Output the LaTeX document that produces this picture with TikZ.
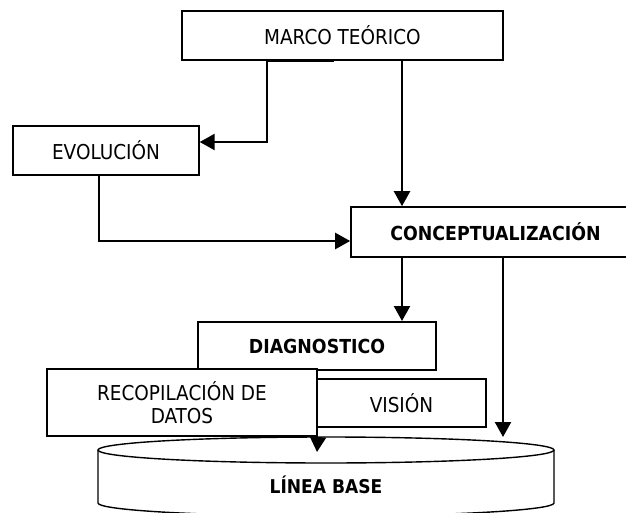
\documentclass[tikz,border=0pt]{standalone}
\usepackage{fontspec}
\setmainfont{DejaVu Sans Condensed}
\usetikzlibrary{arrows.meta,calc}
\begin{document}
\begin{tikzpicture}[x=1pt,y=-1pt,
  box/.style={draw,fill=white,inner sep=0pt,align=center,font=\fontsize{20.5}{23}\selectfont},
  bbox/.style={box,font=\fontsize{19.3}{23}\selectfont\bfseries},
  arr/.style={line width=2.3pt,-{Triangle[length=15pt,width=16pt]}},
  cyl/.style={line width=1.4pt,fill=white}
]
\useasboundingbox (0,0) rectangle (626,513);

% cylinder (LINEA BASE)
\draw[cyl] (98,450) -- (98,503) arc[start angle=180,end angle=0,x radius=228,y radius=13] -- (554,450);
\draw[cyl] (326,450) ellipse[x radius=228,y radius=13];
\node[font=\fontsize{19}{23}\selectfont\bfseries] (base) at (326,485) {LÍNEA BASE};

% boxes
\node[bbox,line width=2pt,minimum width=238pt,minimum height=48pt] (diag) at (317,346) {DIAGNOSTICO};
\node[box,line width=1.6pt,minimum width=169pt,minimum height=48pt] (vision) at (401.5,403) {VISIÓN};
\node[box,line width=2pt,minimum width=270pt,minimum height=67pt] (recop) at (182,402.5) {RECOPILACIÓN DE\\DATOS};
\node[box,line width=1.1pt,minimum width=321pt,minimum height=49pt] (marco) at (342.5,35.5) {MARCO TEÓRICO};
\node[box,line width=1.4pt,minimum width=186pt,minimum height=49pt] (evol) at (106,150.5) {EVOLUCIÓN};
\node[bbox,line width=1.6pt,minimum width=289pt,minimum height=50pt] (concept) at (495.5,232) {CONCEPTUALIZACIÓN};

% helper coordinates
\coordinate (m1) at (334,0);
\coordinate (m2) at (267,142);
\coordinate (c1) at (402,0);
\coordinate (e1) at (99,241);
\coordinate (t1) at (503,437);
\coordinate (t2) at (317,452);

% connectors
\draw[arr] (marco.south -| m1) -- (marco.south -| m2) |- (evol.east |- m2);
\draw[arr] (marco.south -| c1) -- (concept.north -| c1);
\draw[arr] (evol.south -| e1) |- (concept.west |- e1);
\draw[arr] (concept.south -| c1) -- (diag.north -| c1);
\draw[arr] (concept.south -| t1) -- (t1);
\draw[arr] (recop.south east) -- (t2);
\end{tikzpicture}
\end{document}
